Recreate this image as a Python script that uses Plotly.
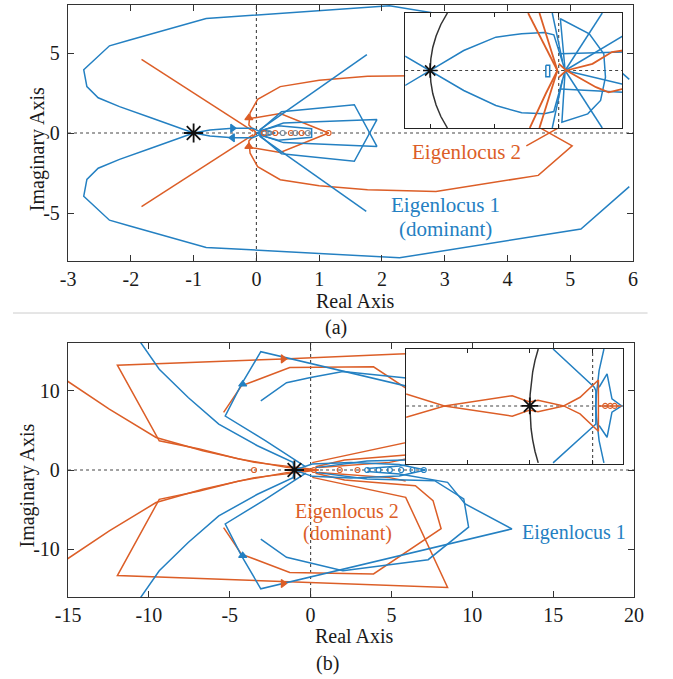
import plotly.graph_objects as go

W, H = 673, 679
BLUE = "#2480c2"
ORANGE = "#dc5e27"
BLACK = "#111111"
FONT = "Liberation Serif, Times New Roman, serif"

# ---------------- axes settings (data ranges / ticks) ----------------
A_XRANGE = [-3, 6]
A_YRANGE = [-8, 8]
A_XTICKS = [-3, -2, -1, 0, 1, 2, 3, 4, 5, 6]
A_YTICKS = [-5, 0, 5]
AI_XRANGE = [-1.195, 0.496]
AI_YRANGE = [-0.5, 0.5]
AI_XTICKS = [-1, -0.5, 0]
B_XRANGE = [-15, 20]
B_YRANGE = [-16, 16]
B_XTICKS = [-15, -10, -5, 0, 5, 10, 15, 20]
B_YTICKS = [-10, 0, 10]
BI_XRANGE = [-2.97, 0.49]
BI_YRANGE = [-0.51, 0.5]
BI_XTICKS = [-2, -1, 0]

CRIT_X = [-1.0]
CRIT_Y = [0.0]

# ---------------- (a) main: Eigenlocus 1 (blue) ----------------
A_BLUE_X = [5.94, 5.17, 2.28, -0.8, -2.03, -2.34, -2.75, -2.7, -2.52, -2.18, -1.68, -1.0, -0.74, -0.38, -0.06, 0.05, None,
            5.94, 5.17, 2.12, -0.8, -2.03, -2.34, -2.75, -2.7, -2.52, -2.18, -1.68, -1.0, -0.74, -0.38, -0.06, 0.05, None,
            0.05, 1.76, None, 0.05, 1.75, None,
            0.05, 0.4, 1.56, 1.92, 0.43, 0.05, None,
            0.05, 0.43, 1.92, 1.56, 0.4, 0.05, None,
            0.05, 0.35, 0.88, 0.88, 0.35, 0.05, None,
            0.0, 0.15, 0.3, 0.15, 0.0]
A_BLUE_Y = [-3.35, -6.0, -7.8, -7.15, -5.8, -5.45, -3.95, -2.9, -2.2, -1.65, -0.95, 0.0, 0.19, 0.3, 0.3, 0.1, None,
            3.35, 6.0, 7.95, 7.15, 5.8, 5.45, 3.95, 2.9, 2.2, 1.65, 0.95, 0.0, -0.19, -0.3, -0.3, -0.1, None,
            0.2, 4.9, None, -0.2, -4.9, None,
            0.15, 1.33, 1.77, -0.84, -0.6, -0.1, None,
            0.1, 0.62, 0.84, -1.77, -1.3, -0.15, None,
            0.12, 0.45, 0.27, -0.27, -0.45, -0.12, None,
            0.0, 0.15, 0.0, -0.15, 0.0]

# ---------------- (a) main: Eigenlocus 2 (orange) ----------------
A_ORANGE_X = [4.3, 5.03, 4.49, 2.86, 1.77, 1.0, 0.38, 0.02, -0.1, -0.12, 0.0, None,
              4.3, 5.03, 4.49, 2.86, 1.77, 1.0, 0.38, 0.02, -0.1, -0.12, 0.0, None,
              -1.83, -0.05, None, -1.83, -0.05, None,
              -0.1, 0.38, 1.15, 0.38, -0.1]
A_ORANGE_Y = [-0.8, 0.8, 2.65, 3.6, 3.55, 3.3, 2.9, 2.1, 1.26, 0.5, 0.0, None,
              0.8, -0.8, -2.65, -3.65, -3.55, -3.3, -2.92, -2.1, -1.26, -0.5, 0.0, None,
              4.6, 0.1, None, -4.6, -0.1, None,
              0.9, 1.22, 0.0, -1.22, -0.9]

A_BLUE_ARROW_RIGHT = ([-0.38], [0.3])
A_BLUE_ARROW_LEFT = ([-0.38], [-0.3])
A_ORANGE_ARROW_UP = ([-0.12, -0.12], [0.95, -0.85])
A_ORANGE_RINGS_X = [0.12, 0.3, 0.55, 0.72, 1.15]
A_BLUE_RINGS_X = [0.2, 0.42, 0.62, 0.82]

# ---------------- (a) inset ----------------
UNIT_ARC_X = [-0.866, -0.917, -0.954, -0.98, -0.995, -1.0, -0.995, -0.98, -0.954, -0.917, -0.866]
UNIT_ARC_Y = [0.5, 0.4, 0.3, 0.2, 0.1, 0.0, -0.1, -0.2, -0.3, -0.4, -0.5]

AI_BLUE_X = [-1.195, -1.0, -0.739, -0.489, -0.288, -0.113, -0.038, 0.05, None,
             -1.195, -1.0, -0.739, -0.489, -0.288, -0.113, -0.038, 0.05, None,
             0.05, 0.339, None, 0.05, 0.339, None,
             0.05, 0.013, 0.238, 0.351, 0.364, 0.326, 0.226, 0.025, 0.05, None,
             0.013, 0.5, None, 0.013, 0.5, None,
             0.05, 0.5, None, 0.05, 0.5, None,
             -0.05, 0.03, None, -0.05, 0.03, None,
             -0.1, -0.07, -0.07, -0.1, -0.1]
AI_BLUE_Y = [0.125, 0.0, -0.174, -0.304, -0.368, -0.377, -0.357, 0.0, None,
             -0.13, 0.0, 0.174, 0.29, 0.319, 0.33, 0.31, 0.0, None,
             0.0, 0.5, None, 0.0, -0.5, None,
             0.0, 0.45, 0.319, 0.145, -0.058, -0.26, -0.377, -0.449, 0.0, None,
             0.145, 0.16, None, -0.16, -0.19, None,
             0.0, 0.3, None, 0.0, -0.12, None,
             0.5, 0.08, None, -0.5, -0.08, None,
             0.045, 0.045, -0.055, -0.055, 0.045]

AI_ORANGE_X = [-0.238, -0.1, -0.01, None, -0.15, -0.05, -0.01, None,
               -0.225, -0.1, -0.01, None, -0.15, -0.05, -0.01, None,
               0.06, 0.263, 0.414, 0.5, None, 0.06, 0.29, 0.389, 0.5, None,
               0.0, 0.06, 0.0]
AI_ORANGE_Y = [0.5, 0.2, 0.0, None, 0.5, 0.15, 0.0, None,
               -0.5, -0.2, 0.0, None, -0.5, -0.15, 0.0, None,
               0.0, 0.058, 0.16, 0.174, None, 0.0, -0.145, -0.19, -0.16, None,
               0.06, 0.0, -0.06]

# ---------------- (b) main: Eigenlocus 1 (blue) ----------------
B_BLUE_X = [-10.56, -9.36, -7.57, -5.68, -3.29, -1.09, -1.0, 0.1, 2.49, 5.48, 7.1, 5.48, 2.49, 0.1, -1.0, -1.09, -3.29, -5.68, -7.57, -9.36, -10.56, None,
            3.5, 5.5, 8.47, 9.56, 12.45, -3.08, -4.28, -5.28, -2.8, -0.3, None,
            3.5, 5.5, 8.47, 9.56, 12.45, -3.08, -4.28, -5.28, -2.8, -0.3, None,
            -3.08, -1.49, 2.0, 7.27, 9.77, 9.47, 7.67, 3.49, 0.3, None,
            -3.08, -1.49, 0.0, 2.0, 7.27, 9.77, 9.47, 7.67, 3.49, 0.3]
B_BLUE_Y = [16.2, 12.7, 9.13, 5.78, 3.06, 0.96, 0.0, -0.8, -1.0, -0.75, 0.0, 0.7, 0.96, 0.75, 0.0, -0.96, -3.06, -5.78, -9.13, -12.7, -16.2, None,
            0.2, 0.5, 1.56, 4.28, 7.42, 14.9, 10.78, 6.8, 3.7, 0.4, None,
            -0.2, -0.5, -1.56, -4.28, -7.42, -14.97, -10.78, -6.8, -3.7, -0.4, None,
            -8.7, -11.0, -12.7, -11.3, -7.2, -3.65, -1.35, -1.13, -0.3, None,
            8.7, 11.0, 11.65, 12.4, 11.3, 7.2, 3.65, 1.35, 1.13, 0.3]

# ---------------- (b) main: Eigenlocus 2 (orange) ----------------
B_ORANGE_X = [8.47, 5.48, -1.7, -11.95, -9.36, -6.87, -4.49, -1.5, 0.0, None,
              0.1, 5.88, 8.47, -3.5, -11.95, -9.36, -6.87, -4.49, -1.5, 0.0, None,
              0.1, 5.88, 8.47, None,
              -15.04, -12.45, -9.56, -6.67, -3.48, -0.5, 0.5, None,
              -15.04, -12.45, -9.56, -6.67, -3.48, -0.5, 0.5, None,
              -5.38, -4.28, -1.29, 3.89, 8.07, 7.57, 6.48, 2.1, 0.3, None,
              -5.38, -4.28, -1.29, 3.89, 8.07, 7.57, 6.48, 2.1, 0.3, None,
              0.5, 4.88, 5.88, None, 0.5, 4.88, 5.88]
B_ORANGE_Y = [14.8, 14.6, 14.0, 13.2, 3.68, 2.64, 1.42, 0.33, 0.0, None,
              -0.93, -3.45, -14.8, -13.9, -13.3, -3.7, -2.64, -1.42, -0.33, 0.0, None,
              0.93, 3.45, 14.8, None,
              11.2, 7.67, 4.1, 2.43, 0.96, 0.2, 0.0, None,
              -11.2, -7.67, -4.1, -2.43, -0.96, -0.2, 0.0, None,
              7.25, 10.6, 12.9, 13.0, 7.4, 3.86, 1.97, 1.26, 0.4, None,
              -7.25, -10.6, -12.9, -13.1, -7.4, -3.86, -1.97, -1.26, -0.4, None,
              0.3, 0.96, 1.38, None, -0.3, -0.96, -1.38]

B_BLUE_ARROW_UP = ([-4.2, -4.2], [10.8, -10.8])
B_ORANGE_ARROW_RIGHT = ([-1.7, -1.7], [14.0, -14.3])
B_ORANGE_RINGS_X = [-3.5, 0.2, 1.8, 2.9]
B_BLUE_RINGS_X = [3.5, 4.2, 4.9, 5.6, 6.3, 7.0]

# ---------------- (b) inset ----------------
BI_ORANGE_X = [-2.97, -2.36, -1.28, -1.0, -0.87, -0.46, -0.2, -0.026, 0.092, 0.092, -0.026, -0.2, -0.46, -0.87, -1.0, -1.28, -2.36, -2.97, None,
               0.092, 0.46]
BI_ORANGE_Y = [0.105, 0.0, 0.09, 0.035, 0.05, 0.0, 0.076, 0.164, 0.228, -0.222, -0.157, -0.07, 0.0, -0.05, -0.035, -0.09, 0.0, -0.1, None,
               0.0, 0.0]
BI_BLUE_X = [-0.63, 0.026, 0.051, 0.051, 0.026, -0.63, None,
             0.18, 0.103, 0.062, 0.051, 0.062, 0.103, 0.18, None,
             0.103, 0.23, 0.308, 0.462, 0.308, 0.23, 0.103]
BI_BLUE_Y = [0.5, 0.164, 0.135, -0.16, -0.172, -0.5, None,
             0.5, 0.31, 0.105, 0.0, -0.1, -0.304, -0.5, None,
             0.164, 0.281, 0.062, 0.0, -0.055, -0.275, -0.172]
BI_ORANGE_RINGS_X = [0.2, 0.28, 0.35]

# ---------------- layout geometry (pixels) ----------------
def fx(p):
    return p / W

def fy(p):
    return 1 - p / H

fig = go.Figure()

def lines(xs, ys, color, ax, width=1.5, dash=None):
    fig.add_trace(go.Scatter(x=xs, y=ys, mode="lines", xaxis=ax[0], yaxis=ax[1],
                             line=dict(color=color, width=width, dash=dash),
                             connectgaps=False, hoverinfo="skip", showlegend=False))

def marks(xs, ys, color, ax, symbol, size, lw=1.2):
    fig.add_trace(go.Scatter(x=xs, y=ys, mode="markers", xaxis=ax[0], yaxis=ax[1],
                             marker=dict(symbol=symbol, size=size, color=color,
                                         line=dict(color=color, width=lw)),
                             hoverinfo="skip", showlegend=False))

def zero_lines(xr, yr, ax):
    lines(xr, [0, 0], "#444444", ax, width=1.1, dash="dot")
    lines([0, 0], yr, "#444444", ax, width=1.1, dash="dot")

AXA = ("x", "y")
AXAI = ("x2", "y2")
AXB = ("x3", "y3")
AXBI = ("x4", "y4")

# (a) main
zero_lines(A_XRANGE, A_YRANGE, AXA)
lines(A_ORANGE_X, A_ORANGE_Y, ORANGE, AXA)
lines(A_BLUE_X, A_BLUE_Y, BLUE, AXA)
marks(*A_BLUE_ARROW_RIGHT, BLUE, AXA, "triangle-right", 7)
marks(*A_BLUE_ARROW_LEFT, BLUE, AXA, "triangle-left", 7)
marks(*A_ORANGE_ARROW_UP, ORANGE, AXA, "triangle-up", 7)
marks(A_ORANGE_RINGS_X, [0] * len(A_ORANGE_RINGS_X), ORANGE, AXA, "circle-open", 5)
marks(A_BLUE_RINGS_X, [0] * len(A_BLUE_RINGS_X), "#7a8a9a", AXA, "circle-open", 5)
marks(CRIT_X, CRIT_Y, BLACK, AXA, "asterisk-open", 16, lw=1.8)

# (a) inset
zero_lines(AI_XRANGE, AI_YRANGE, AXAI)
lines(UNIT_ARC_X, UNIT_ARC_Y, "#333333", AXAI, width=1.5)
lines(AI_BLUE_X, AI_BLUE_Y, BLUE, AXAI)
lines(AI_ORANGE_X, AI_ORANGE_Y, ORANGE, AXAI, width=1.8)
marks(CRIT_X, CRIT_Y, BLACK, AXAI, "asterisk-open", 12, lw=1.6)

# (b) main
zero_lines(B_XRANGE, B_YRANGE, AXB)
lines(B_ORANGE_X, B_ORANGE_Y, ORANGE, AXB)
lines(B_BLUE_X, B_BLUE_Y, BLUE, AXB)
marks(*B_BLUE_ARROW_UP, BLUE, AXB, "triangle-up", 7)
marks(*B_ORANGE_ARROW_RIGHT, ORANGE, AXB, "triangle-right", 7)
marks(B_ORANGE_RINGS_X, [0] * len(B_ORANGE_RINGS_X), ORANGE, AXB, "circle-open", 5)
marks(B_BLUE_RINGS_X, [0] * len(B_BLUE_RINGS_X), BLUE, AXB, "circle-open", 5)
marks(CRIT_X, CRIT_Y, BLACK, AXB, "asterisk-open", 16, lw=1.8)

# (b) inset
zero_lines(BI_XRANGE, BI_YRANGE, AXBI)
lines(UNIT_ARC_X, UNIT_ARC_Y, "#333333", AXBI, width=1.5)
lines(BI_BLUE_X, BI_BLUE_Y, BLUE, AXBI)
lines(BI_ORANGE_X, BI_ORANGE_Y, ORANGE, AXBI)
marks(BI_ORANGE_RINGS_X, [0] * len(BI_ORANGE_RINGS_X), ORANGE, AXBI, "circle-open", 5)
marks(CRIT_X, CRIT_Y, BLACK, AXBI, "asterisk-open", 14, lw=1.8)

tickfont = dict(family=FONT, size=20, color="#1a1a1a")

def main_axis(domain, rng, ticks, anchor, standoff):
    return dict(domain=domain, range=rng, anchor=anchor, tickvals=ticks,
                ticktext=[str(t) for t in ticks], showline=True, linecolor="#333333",
                linewidth=1.4, mirror="ticks", ticks="inside", ticklen=6, tickwidth=1.2,
                tickcolor="#333333", showgrid=False, zeroline=False, tickfont=tickfont,
                ticklabelstandoff=standoff, fixedrange=True)

def inset_axis(domain, rng, ticks, anchor):
    return dict(domain=domain, range=rng, anchor=anchor, tickvals=ticks,
                showticklabels=False, showline=True, linecolor="#222222", linewidth=1.4,
                mirror="ticks", ticks="inside" if ticks else "", ticklen=4, tickwidth=1.1,
                tickcolor="#222222", showgrid=False, zeroline=False, fixedrange=True)

layout = dict(
    width=W, height=H, margin=dict(l=0, r=0, t=0, b=0),
    paper_bgcolor="white", plot_bgcolor="white", showlegend=False,
    font=dict(family=FONT, size=20, color="#1a1a1a"),
    xaxis=main_axis([fx(57), fx(642)], A_XRANGE, A_XTICKS, "y", 0),
    yaxis=main_axis([fy(261), fy(5)], A_YRANGE, A_YTICKS, "x", 3),
    xaxis2=inset_axis([fx(406), fx(631)], AI_XRANGE, AI_XTICKS, "y2"),
    yaxis2=inset_axis([fy(128), fy(13)], AI_YRANGE, [], "x2"),
    xaxis3=main_axis([fx(57), fx(643)], B_XRANGE, B_XTICKS, "y3", 0),
    yaxis3=main_axis([fy(597), fy(343)], B_YRANGE, B_YTICKS, "x3", 3),
    xaxis4=inset_axis([fx(407), fx(632)], BI_XRANGE, BI_XTICKS, "y4"),
    yaxis4=inset_axis([fy(464), fy(349)], BI_YRANGE, [], "x4"),
)
fig.update_layout(**layout)

def label(text, x, y, size=20, color="#1a1a1a", angle=0):
    fig.add_annotation(text=text, x=fx(x), y=fy(y), xref="paper", yref="paper",
                       showarrow=False, xanchor="center", yanchor="middle",
                       textangle=angle, font=dict(family=FONT, size=size, color=color))

label("Real Axis", 355, 301)
label("Imaginary Axis", 25, 149, angle=-90)
label("(a)", 334, 327)
label("Real Axis", 354, 636)
label("Imaginary Axis", 15, 485, angle=-90)
label("(b)", 326, 663)
label("Eigenlocus 2", 470, 152, size=21, color=ORANGE)
label("Eigenlocus 1", 448, 205, size=21, color=BLUE)
label("(dominant)", 448, 229, size=21, color=BLUE)
label("Eigenlocus 2", 346, 511, size=20, color=ORANGE)
label("(dominant)", 346, 533, size=20, color=ORANGE)
label("Eigenlocus 1", 581, 532, size=20, color=BLUE)

fig.add_shape(type="line", xref="paper", yref="paper", x0=0, x1=fx(657), y0=fy(313), y1=fy(313),
              line=dict(color="#cccccc", width=1))

fig.write_html("out.html")
